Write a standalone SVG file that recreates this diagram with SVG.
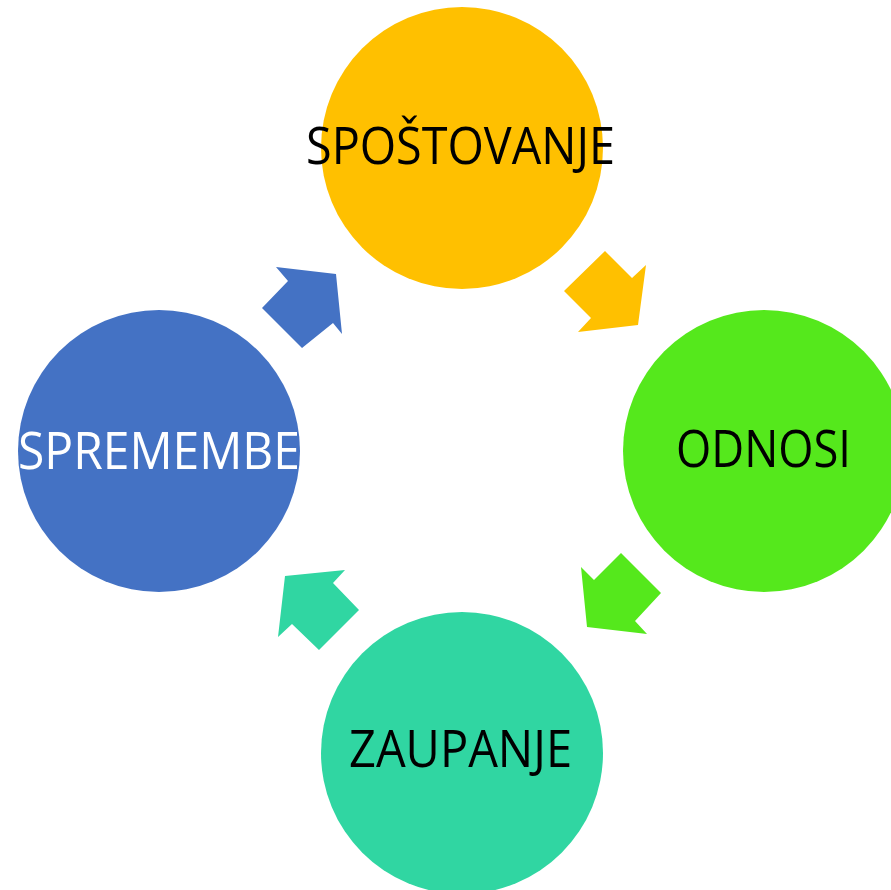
<svg xmlns="http://www.w3.org/2000/svg" width="891" height="890" viewBox="0 0 891 890">
<style>
.lbl{font-family:"Open Sans","Liberation Sans",sans-serif;font-size:51px;}
</style>
<rect width="891" height="890" fill="#ffffff"/>
<g id="connectors">
<polygon fill="#FFC000" points="564,291 605,251 632,278 646,265 638,325 578,332 591,318"/>
<polygon fill="#55E81C" points="621,553 661,593 635,621 647,634 587,627 581,567 594,580"/>
<polygon fill="#30D6A2" points="285,576 345,570 333,583 359,610 319,650 292,624 278,637"/>
<polygon fill="#4472C4" points="276,267 336,274 342,334 333,323 302,348 262,308 288,281"/>
</g>
<g id="spostovanje">
<circle cx="462" cy="148" r="141" fill="#FFC000"/>
<text class="lbl" x="306" y="164" textLength="309" lengthAdjust="spacingAndGlyphs" fill="#000000">SPOŠTOVANJE</text>
</g>
<g id="odnosi">
<circle cx="764" cy="451" r="141" fill="#55E81C"/>
<text class="lbl" x="676" y="467" textLength="175" lengthAdjust="spacingAndGlyphs" fill="#000000">ODNOSI</text>
</g>
<g id="zaupanje">
<circle cx="462" cy="753" r="141" fill="#30D6A2"/>
<text class="lbl" x="349" y="767" textLength="223" lengthAdjust="spacingAndGlyphs" fill="#000000">ZAUPANJE</text>
</g>
<g id="spremembe">
<circle cx="159" cy="451" r="141" fill="#4472C4"/>
<text class="lbl" x="18" y="469" textLength="282" lengthAdjust="spacingAndGlyphs" fill="#ffffff">SPREMEMBE</text>
</g>
</svg>
